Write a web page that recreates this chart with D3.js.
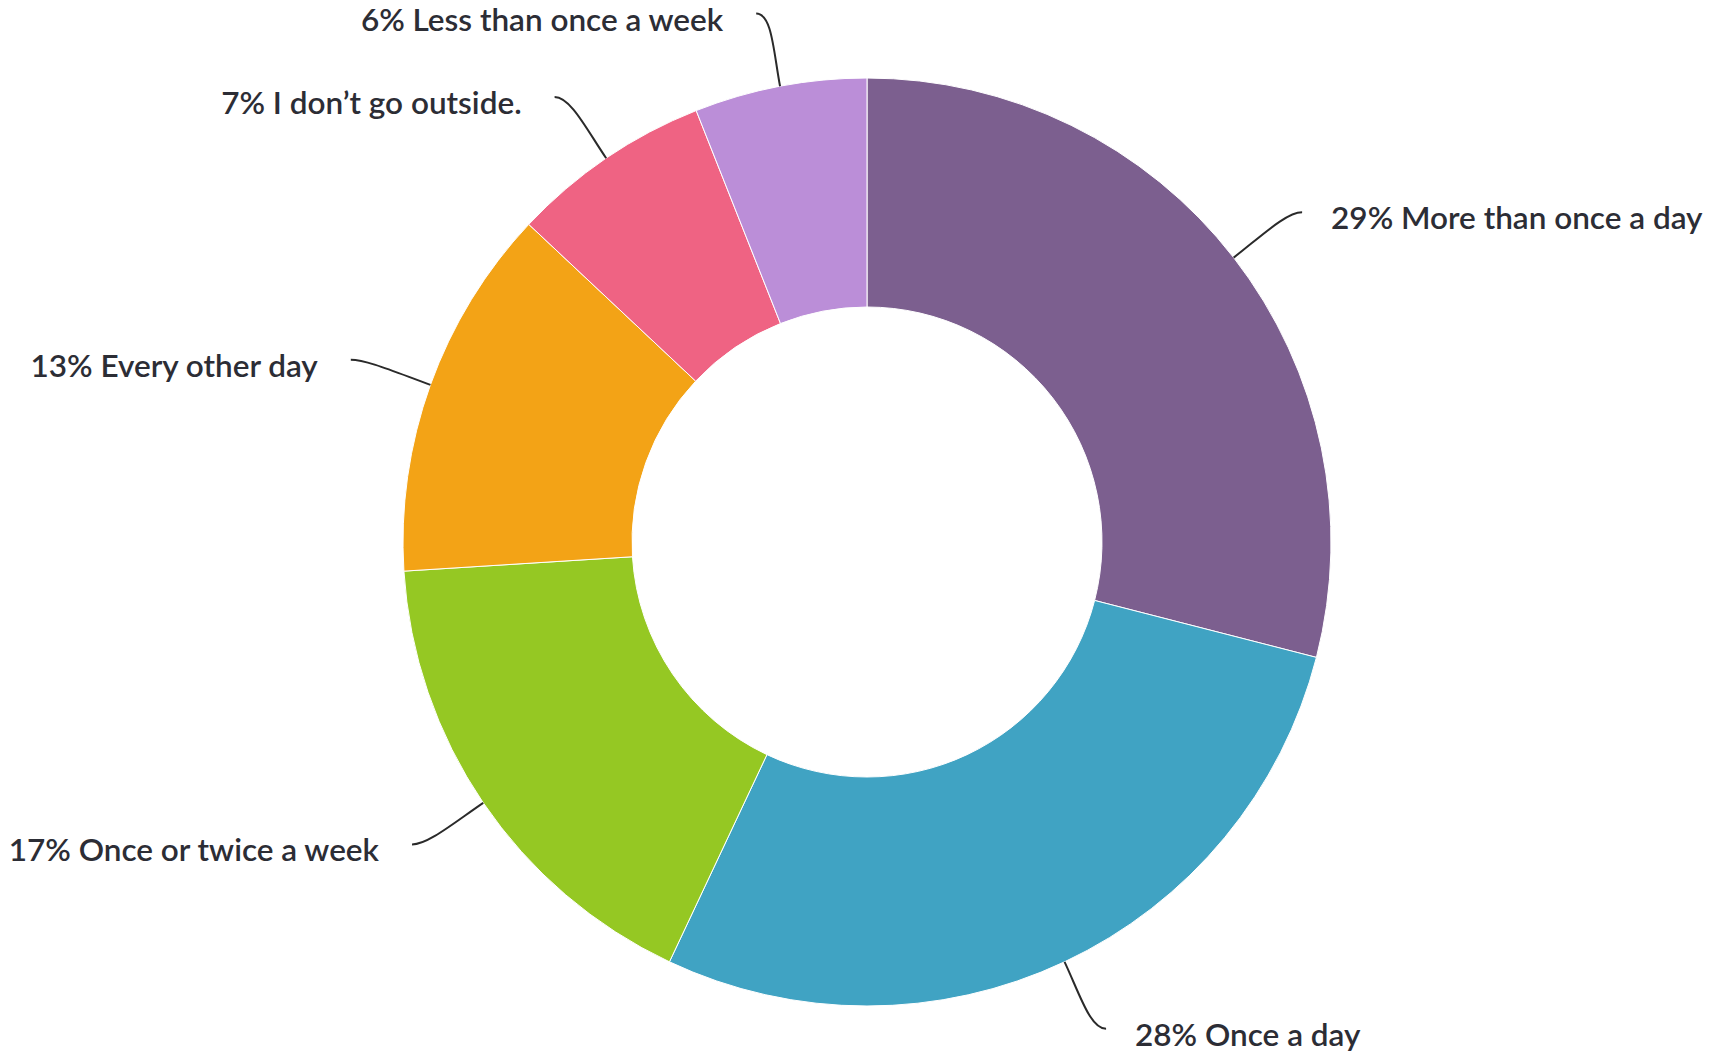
<!DOCTYPE html>
<html>
<head>
<meta charset="utf-8">
<script src="https://cdn.jsdelivr.net/npm/d3@7"></script>
<style>
  html, body { margin: 0; padding: 0; background: #ffffff; }
  svg { display: block; }
  .label { font-family: Lato, "Noto Sans", sans-serif; font-size: 31.5px; font-weight: 600; fill: #2c2d35; }
  .leader { fill: none; stroke: #2a2a2a; stroke-width: 2; }
</style>
</head>
<body>
<svg id="chart" width="1728" height="1055"></svg>
<script>
// How often respondents go outside (share of answers, %)
const categories = [
  "More than once a day",
  "Once a day",
  "Once or twice a week",
  "Every other day",
  "I don’t go outside.",
  "Less than once a week"
];
const shares = [29, 28, 17, 13, 7, 6];
const sliceColors = ["#7c5f8f", "#40a3c3", "#95c823", "#f3a316", "#ef6383", "#bb8ed8"];

const width = 1728, height = 1055;
const cx = 867, cy = 542;
const outerR = 464, innerR = 235;
const lineR = 538;

const svg = d3.select("#chart");
const g = svg.append("g").attr("transform", `translate(${cx},${cy})`);

const data = categories.map((c, i) => ({ label: c, value: shares[i], color: sliceColors[i] }));

const pie = d3.pie().sort(null).value(d => d.value).startAngle(0).endAngle(2 * Math.PI);
const arcs = pie(data);

const arc = d3.arc().innerRadius(innerR).outerRadius(outerR);

g.selectAll("path.slice")
  .data(arcs)
  .enter().append("path")
  .attr("class", "slice")
  .attr("d", arc)
  .attr("fill", d => d.data.color)
  .attr("stroke", "#ffffff")
  .attr("stroke-width", 1);

// point at radius r along angle a (d3 convention: 0 = top, clockwise)
const polar = (a, r) => [r * Math.sin(a), -r * Math.cos(a)];

arcs.forEach(d => {
  const mid = (d.startAngle + d.endAngle) / 2;
  const side = Math.sin(mid) >= 0 ? 1 : -1;
  const p0 = polar(mid, outerR);
  const p1 = polar(mid, outerR + 35);
  const e = polar(mid, lineR);
  const p3 = [e[0] + side * 10, e[1]];
  const p2 = [p3[0] - side * 16, p3[1]];

  g.append("path")
    .attr("class", "leader")
    .attr("d", `M${p0[0]},${p0[1]} C${p1[0]},${p1[1]} ${p2[0]},${p2[1]} ${p3[0]},${p3[1]}`);

  g.append("text")
    .attr("class", "label")
    .attr("x", p3[0] + side * (side > 0 ? 29 : 33))
    .attr("y", p3[1] + 6)
    .attr("dy", "0.35em")
    .attr("text-anchor", side > 0 ? "start" : "end")
    .text(`${d.data.value}% ${d.data.label}`);
});
</script>
</body>
</html>
